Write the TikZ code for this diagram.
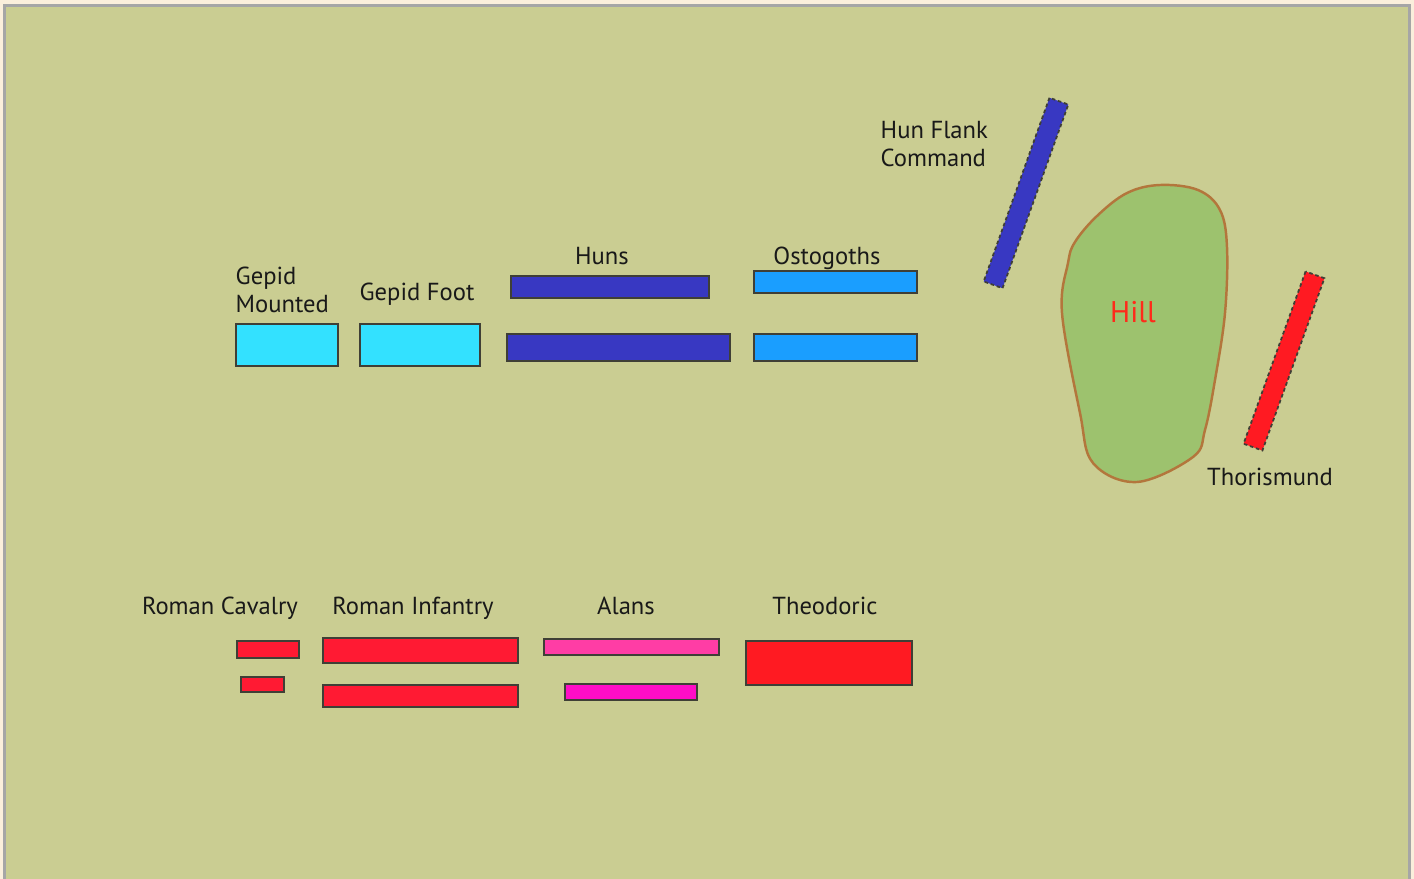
\documentclass[tikz,border=0pt]{standalone}
\usepackage{fontspec}
\setmainfont{PT Sans}
\usepackage{tikz}
\definecolor{field}{HTML}{CACD92}
\definecolor{paper}{HTML}{FBEFDC}
\definecolor{gepidcyan}{HTML}{33E1FF}
\definecolor{hunblue}{HTML}{3838C2}
\definecolor{gothblue}{HTML}{1A9EFF}
\definecolor{romanred}{HTML}{FF1A33}
\definecolor{alanpink}{HTML}{FF3DA5}
\definecolor{alanmag}{HTML}{FF0DC6}
\definecolor{theored}{HTML}{FF1A22}
\definecolor{hillgreen}{HTML}{9DC26E}
\definecolor{hilledge}{HTML}{B3763C}
\definecolor{hilltext}{HTML}{FF2A1A}
\definecolor{edge}{HTML}{3F3F36}
\tikzstyle{unit} = [rectangle, draw=edge, line width=0.6pt, inner sep=0pt]
\tikzstyle{flank} = [unit, line width=0.5pt, dash pattern=on 1pt off 0.8pt, minimum height=0.2cm]
\tikzstyle{army} = [font=\fontsize{7}{8}\selectfont, text=black!90, inner sep=0pt]

\begin{document}
\begin{tikzpicture}[x=0.01cm, y=-0.01cm]

\useasboundingbox (0,0) rectangle (1414,879);
\fill[paper] (0,0) rectangle (1414,879);
\fill[field] (4,5) rectangle (1410,879);
\draw[gray!70, line width=1pt] (4.5,879) -- (4.5,5.5) -- (1409.5,5.5) -- (1409.5,879);

% hill
\draw[hilledge, fill=hillgreen, line width=0.7pt] plot[smooth cycle, tension=0.6] coordinates
	{(1160,185) (1198,190) (1220,210) (1227,247) (1225,313) (1215,380) (1205,430) (1193,457)
	 (1137,482) (1093,463) (1080,413) (1062,313) (1068,263) (1075,242) (1097,216) (1127,193)};
\node [font=\fontsize{8.5}{10}\selectfont, text=hilltext, anchor=base] at (1133,323) (hill) {Hill};

% hun side
\node [unit, fill=gepidcyan, minimum width=1.02cm, minimum height=0.42cm] at (287,345) (gm) {};
\node [unit, fill=gepidcyan, minimum width=1.20cm, minimum height=0.42cm] at (420,345) (gf) {};
\node [unit, fill=hunblue, minimum width=1.98cm, minimum height=0.22cm] at (610,287) (hun1) {};
\node [unit, fill=hunblue, minimum width=2.23cm, minimum height=0.27cm] at (618.5,347.5) (hun2) {};
\node [unit, fill=gothblue, minimum width=1.63cm, minimum height=0.22cm] at (835.5,282) (ost1) {};
\node [unit, fill=gothblue, minimum width=1.63cm, minimum height=0.27cm] at (835.5,347.5) (ost2) {};
\node [flank, fill=hunblue, minimum width=1.95cm, rotate=70.3] at (1026,193) (hfc) {};

\node [army, align=left, anchor=base west] at (235,313) (gml) {Gepid\\Mounted};
\node [army, anchor=base] at (417,301) (gfl) {Gepid Foot};
\node [army, anchor=base] at (602,265) (hunl) {Huns};
\node [army, anchor=base] at (827,265) (ostl) {Ostogoths};
\node [army, align=left, anchor=base west] at (880,167) (hfcl) {Hun Flank\\Command};

% roman side
\node [unit, fill=romanred, minimum width=0.62cm, minimum height=0.17cm] at (268,649.5) (rc1) {};
\node [unit, fill=romanred, minimum width=0.43cm, minimum height=0.15cm] at (262.5,684.5) (rc2) {};
\node [unit, fill=romanred, minimum width=1.95cm, minimum height=0.25cm] at (420.5,650.5) (ri1) {};
\node [unit, fill=romanred, minimum width=1.95cm, minimum height=0.22cm] at (420.5,696) (ri2) {};
\node [unit, fill=alanpink, minimum width=1.75cm, minimum height=0.16cm] at (631.5,647) (al1) {};
\node [unit, fill=alanmag, minimum width=1.32cm, minimum height=0.16cm] at (631,692) (al2) {};
\node [unit, fill=theored, minimum width=1.66cm, minimum height=0.44cm] at (829,663) (theo) {};
\node [flank, fill=theored, minimum width=1.83cm, rotate=70.2] at (1284,361) (thor) {};

\foreach \x/\name in {220/Roman Cavalry, 413/Roman Infantry, 626/Alans, 825/Theodoric}
	\node [army, anchor=base] at (\x,615) (lbl\x) {\name};
\node [army, anchor=base] at (1270,486) (thorl) {Thorismund};

\end{tikzpicture}
\end{document}
